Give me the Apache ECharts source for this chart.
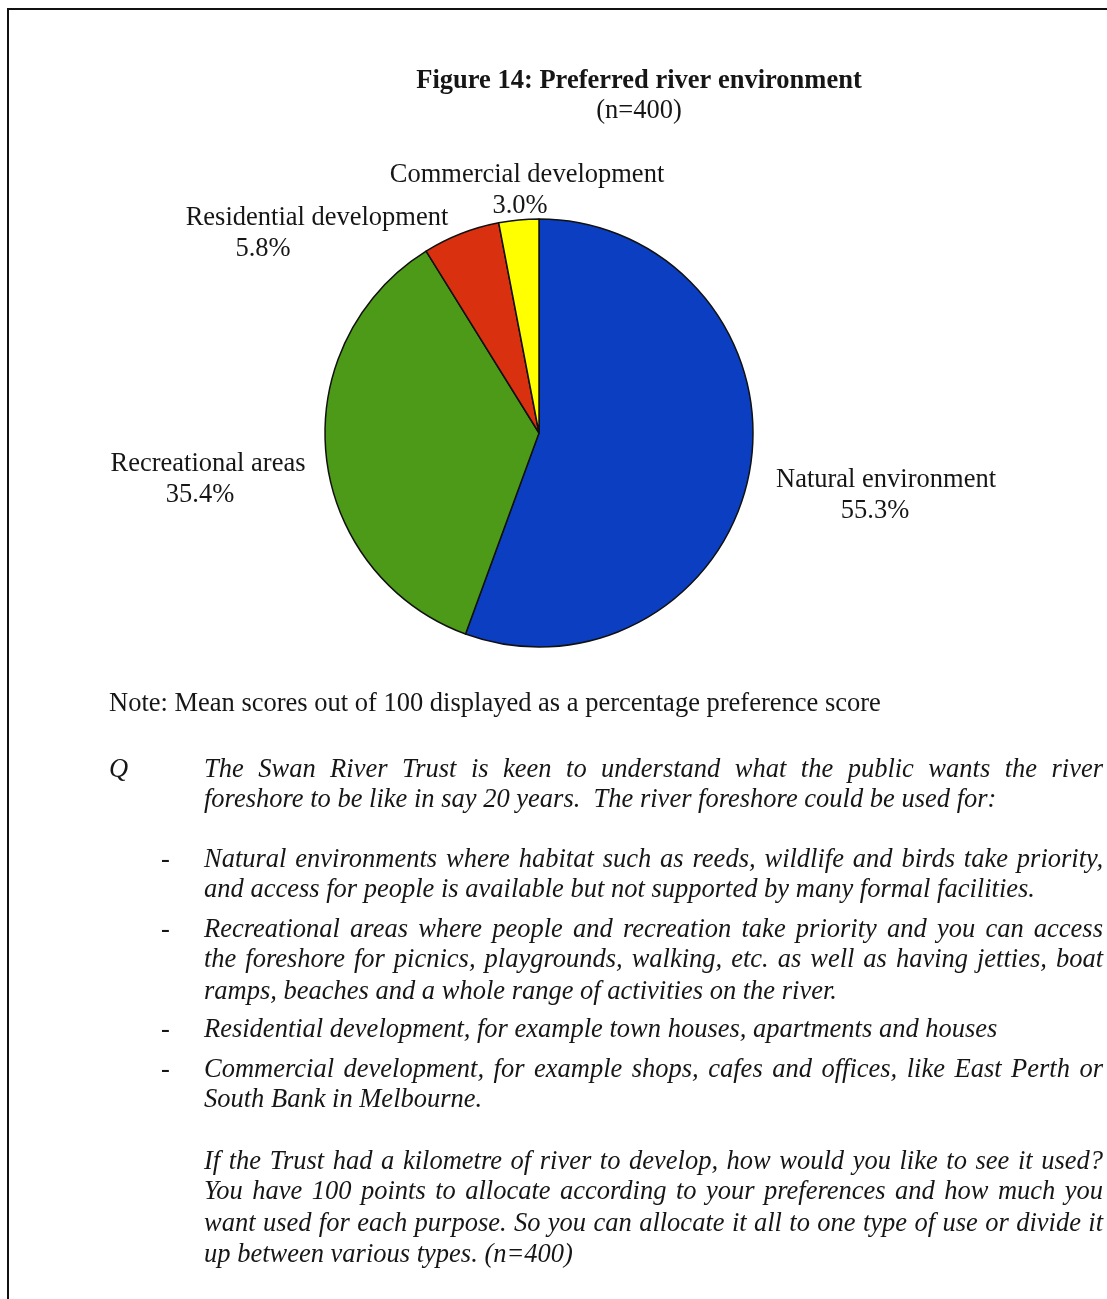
<!DOCTYPE html>
<html>
<head>
<meta charset="utf-8">
<script src="https://cdn.jsdelivr.net/npm/echarts@6/dist/echarts.min.js"></script>
<style>
html, body { margin: 0; padding: 0; background: #ffffff; }
#chart { width: 1107px; height: 1299px; }
</style>
</head>
<body>
<div id="chart"></div>
<script>
// Preferred river environment: mean allocation of 100 points (n=400)
const categories = ['Natural environment', 'Recreational areas', 'Residential development', 'Commercial development'];
const values = [55.3, 35.4, 5.8, 3.0];

const titleText = 'Figure 14: Preferred river environment';
const subtitleText = '(n=400)';
const noteText = 'Note: Mean scores out of 100 displayed as a percentage preference score';

// Question wording, one entry per printed line; last line of each paragraph is not justified
const questionBlocks = [
  { marker: 'Q', lines: [
    'The Swan River Trust is keen to understand what the public wants the river',
    'foreshore to be like in say 20 years.  The river foreshore could be used for:'
  ] },
  { marker: '-', lines: [
    'Natural environments where habitat such as reeds, wildlife and birds take priority,',
    'and access for people is available but not supported by many formal facilities.'
  ] },
  { marker: '-', lines: [
    'Recreational areas where people and recreation take priority and you can access',
    'the foreshore for picnics, playgrounds, walking, etc. as well as having jetties, boat',
    'ramps, beaches and a whole range of activities on the river.'
  ] },
  { marker: '-', lines: [
    'Residential development, for example town houses, apartments and houses'
  ] },
  { marker: '-', lines: [
    'Commercial development, for example shops, cafes and offices, like East Perth or',
    'South Bank in Melbourne.'
  ] },
  { marker: '', lines: [
    'If the Trust had a kilometre of river to develop, how would you like to see it used?',
    'You have 100 points to allocate according to your preferences and how much you',
    'want used for each purpose.  So you can allocate it all to one type of use or divide it',
    'up between various types. (n=400)'
  ] }
];

// ---- layout & style ----
const SERIF = '"Liberation Serif", "Times New Roman", serif';
const INK = '#161616';
const FS = 26.5;
const sliceColors = ['#0b3ec0', '#4c9a18', '#d9300f', '#ffff00'];
const labelAnchor = [[886, 496], [208, 480], [317, 234], [527, 191]];
const pctShift = [11, 8, 54, 7];
const blockLineY = [
  [770, 800],
  [860, 890],
  [930, 960, 992],
  [1030],
  [1070, 1100],
  [1162, 1192, 1224, 1255]
];
const markerX = { 'Q': 109, '-': 161 };
const textLeft = 204, textRight = 1103;

const measureCtx = document.createElement('canvas').getContext('2d');
function textWidth(str, font) {
  measureCtx.font = font;
  return measureCtx.measureText(str).width;
}

// Build graphic text for one justified (or ragged) line, word by word
function lineElements(line, y, justify) {
  const font = 'italic ' + FS + 'px ' + SERIF;
  const style = { fill: INK, font: font, textVerticalAlign: 'middle', textAlign: 'left' };
  if (!justify) {
    return [{ type: 'text', x: textLeft, y: y, style: Object.assign({ text: line }, style) }];
  }
  const words = line.split(/\s+/);
  const widths = words.map(w => textWidth(w, font));
  const total = widths.reduce((a, b) => a + b, 0);
  const gap = (textRight - textLeft - total) / (words.length - 1);
  const out = [];
  let x = textLeft;
  words.forEach((w, i) => {
    out.push({ type: 'text', x: x, y: y, style: Object.assign({ text: w }, style) });
    x += widths[i] + gap;
  });
  return out;
}

const graphics = [
  // page frame (top and left rules)
  { type: 'line', shape: { x1: 7, y1: 9, x2: 1107, y2: 9 }, style: { stroke: '#111', lineWidth: 2 } },
  { type: 'line', shape: { x1: 8, y1: 8, x2: 8, y2: 1299 }, style: { stroke: '#111', lineWidth: 2 } },
  { type: 'text', x: 639, y: 81, style: { text: titleText, fill: INK, font: 'bold ' + FS + 'px ' + SERIF, textAlign: 'center', textVerticalAlign: 'middle' } },
  { type: 'text', x: 639, y: 111, style: { text: subtitleText, fill: INK, font: FS + 'px ' + SERIF, textAlign: 'center', textVerticalAlign: 'middle' } },
  { type: 'text', x: 109, y: 704, style: { text: noteText, fill: INK, font: FS + 'px ' + SERIF, textAlign: 'left', textVerticalAlign: 'middle' } }
];

questionBlocks.forEach((block, bi) => {
  const ys = blockLineY[bi];
  if (block.marker) {
    graphics.push({ type: 'text', x: markerX[block.marker], y: ys[0],
      style: { text: block.marker, fill: INK, font: (block.marker === 'Q' ? 'italic ' : '') + FS + 'px ' + SERIF,
        textAlign: 'left', textVerticalAlign: 'middle' } });
  }
  block.lines.forEach((line, li) => {
    const justify = li < block.lines.length - 1;
    lineElements(line, ys[li], justify).forEach(el => graphics.push(el));
  });
});

const pieData = categories.map((name, i) => ({
  name: name,
  value: values[i],
  itemStyle: { color: sliceColors[i] },
  label: {
    rich: {
      n: { fontFamily: SERIF, fontSize: FS, color: INK, lineHeight: 31, align: 'center' },
      p: { fontFamily: SERIF, fontSize: FS, color: INK, lineHeight: 31, align: 'center', padding: [0, pctShift[i] * 2, 0, 0] }
    }
  }
}));

const chart = echarts.init(document.getElementById('chart'), null, { renderer: 'canvas' });
chart.setOption({
  backgroundColor: '#ffffff',
  animation: false,
  graphic: graphics,
  series: [{
    type: 'pie',
    center: [539, 433],
    radius: 214,
    startAngle: 90,
    clockwise: true,
    avoidLabelOverlap: false,
    itemStyle: { borderColor: '#111', borderWidth: 1.5 },
    label: {
      show: true,
      position: 'outside',
      formatter: p => '{n|' + p.name + '}\n{p|' + p.value.toFixed(1) + '%}'
    },
    labelLine: { show: false },
    labelLayout: p => ({
      x: labelAnchor[p.dataIndex][0],
      y: labelAnchor[p.dataIndex][1],
      align: 'center',
      verticalAlign: 'middle'
    }),
    emphasis: { disabled: true },
    data: pieData
  }]
});
</script>
</body>
</html>
